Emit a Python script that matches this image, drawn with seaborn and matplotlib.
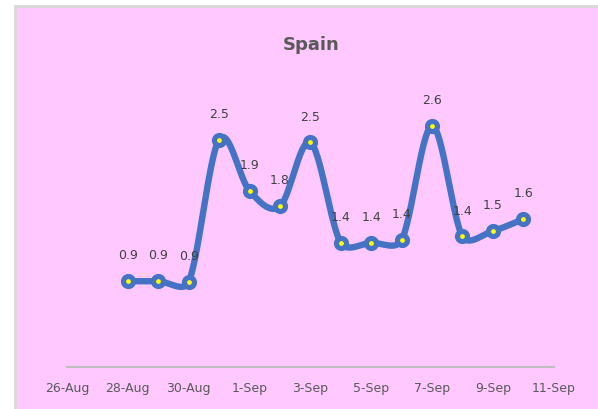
import numpy as np
import pandas as pd
import matplotlib
matplotlib.use("Agg")
import matplotlib.pyplot as plt
import matplotlib.dates as mdates
from matplotlib.patches import Rectangle
import seaborn as sns

# data (daily values, labels shown with one decimal)
dates = ["2020-08-28", "2020-08-29", "2020-08-30", "2020-08-31", "2020-09-01",
         "2020-09-02", "2020-09-03", "2020-09-04", "2020-09-05", "2020-09-06",
         "2020-09-07", "2020-09-08", "2020-09-09", "2020-09-10"]
values = [0.94, 0.94, 0.93, 2.49, 1.93, 1.76, 2.46, 1.36, 1.36, 1.39, 2.64, 1.43, 1.49, 1.62]
tick_dates = ["2020-08-26", "2020-08-28", "2020-08-30", "2020-09-01", "2020-09-03",
              "2020-09-05", "2020-09-07", "2020-09-09", "2020-09-11"]
tick_labels = ["26-Aug", "28-Aug", "30-Aug", "1-Sep", "3-Sep", "5-Sep", "7-Sep", "9-Sep", "11-Sep"]
title = "Spain"

BLUE = "#4472C4"
PINK = "#FFC9FF"


def clamp(v, lim):
    n = np.linalg.norm(v)
    return v * (lim / n) if n > lim else v


def smooth(pts, n=30):
    # excel-like smoothed line: bezier segments with catmull-rom tangents,
    # control arms limited to part of the segment length (pts in display pixels)
    p = np.vstack([pts[0], pts, pts[-1]])
    t = np.linspace(0, 1, n)[:, None]
    out = []
    for i in range(1, len(p) - 2):
        p0, p1, p2, p3 = p[i - 1], p[i], p[i + 1], p[i + 2]
        d12 = np.linalg.norm(p2 - p1)
        c1 = p1 + clamp((p2 - p0) / 6, 0.4 * d12)
        c2 = p2 - clamp((p3 - p1) / 6, 0.4 * d12)
        seg = ((1 - t) ** 3) * p1 + 3 * ((1 - t) ** 2) * t * c1 + 3 * (1 - t) * t ** 2 * c2 + t ** 3 * p2
        out.append(seg if i == 1 else seg[1:])
    return np.vstack(out)


sns.set_theme(style="white")
plt.rcParams["font.family"] = ["DejaVu Sans"]

x = mdates.date2num(pd.to_datetime(dates))
xt = mdates.date2num(pd.to_datetime(tick_dates))
df = pd.DataFrame({"x": x, "value": values})

fig = plt.figure(figsize=(5.98, 4.10), dpi=100)
fig.patch.set_facecolor("white")
bg = Rectangle((0.025, -0.02), 1.05, 1.003, transform=fig.transFigure,
               facecolor=PINK, edgecolor="#D9D9D9", lw=2)
bg.set_zorder(-10)
fig.patches.append(bg)

ax = fig.add_axes([0.112, 0.1024, 0.814, 0.668])
ax.set_facecolor("none")
ax.set_zorder(1)
ax.set_xlim(xt[0], xt[-1])
ax.set_ylim(0, 3)

disp = ax.transData.transform(df[["x", "value"]].to_numpy())
curve = ax.transData.inverted().transform(smooth(disp))
sns.lineplot(x=curve[:, 0], y=curve[:, 1], sort=False, estimator=None, color=BLUE, lw=4.6,
             ax=ax, solid_capstyle="round", solid_joinstyle="round")
sns.scatterplot(data=df, x="x", y="value", s=52, color="#FFFF00", edgecolor=BLUE,
                linewidth=3.7, zorder=3, ax=ax)

for xi, v in zip(df["x"], df["value"]):
    ax.annotate(f"{v:.1f}", (xi, v), xytext=(0, 19), textcoords="offset points",
                ha="center", va="center", fontsize=9, color="#404040")

ax.set_xlim(xt[0], xt[-1])
ax.set_ylim(0, 3)
ax.set_xticks(xt)
ax.set_xticklabels(tick_labels, fontsize=9, color="#595959")
ax.set_yticks([])
ax.tick_params(axis="x", length=0, pad=10)
ax.set_xlabel("")
ax.set_ylabel("")
for s in ["top", "right", "left"]:
    ax.spines[s].set_visible(False)
ax.spines["bottom"].set_color("#BFBFBF")
ax.spines["bottom"].set_linewidth(1.5)

fig.text(311 / 598, 1 - 45 / 410, title, ha="center", va="center", fontsize=13,
         fontweight="bold", color="#595959")

fig.savefig("out.png", dpi=100, facecolor=fig.get_facecolor())
